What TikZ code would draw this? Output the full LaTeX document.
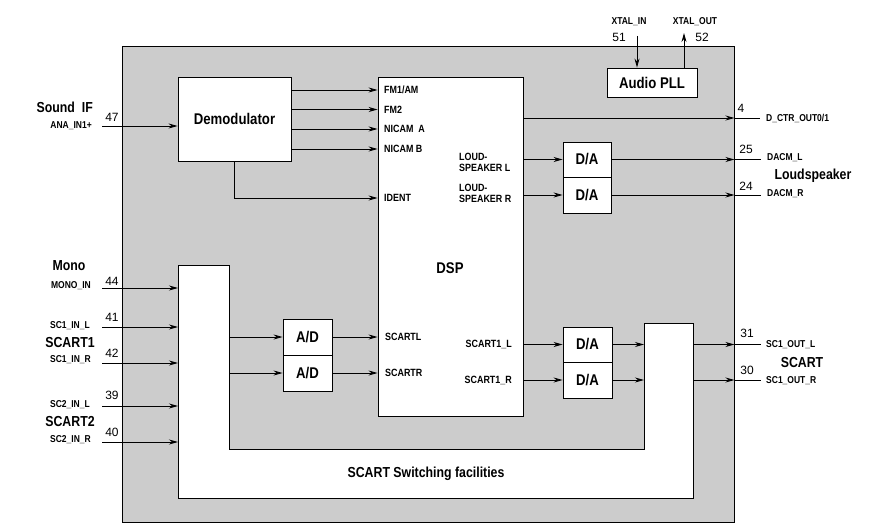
\documentclass[tikz,border=0pt]{standalone}
\usepackage{fontspec}
\setmainfont{Liberation Sans}[FakeStretch=0.85]
\newfontfamily\pinnum{Liberation Sans}
\usetikzlibrary{arrows.meta,positioning,calc}
\definecolor{chipgray}{RGB}{204,204,204}

\tikzset{
  wire/.style={line width=0.9pt},
  arr/.style={wire, -{Stealth[length=9pt,width=5pt]}},
  blk/.style={draw, wire, fill=white, inner sep=0pt, font=\bfseries\fontsize{15.5}{15.5}\selectfont},
  sig/.style={inner sep=0pt, font=\bfseries\fontsize{10.5}{11.5}\selectfont},
  pinlbl/.style={inner sep=0pt, font=\bfseries\fontsize{10}{10}\selectfont},
  pinno/.style={inner sep=0pt, font=\pinnum\fontsize{12}{12}\selectfont},
  grp/.style={inner sep=0pt, font=\bfseries\fontsize{14.5}{14.5}\selectfont},
}

\begin{document}
\begin{tikzpicture}[x=1pt,y=-1pt]
    \useasboundingbox (0,0) rectangle (878,524);
    % Chip
    \node[draw, wire, fill=chipgray, minimum width=612, minimum height=476, inner sep=0pt] (chip) at (428,284) {};
    % SCART switch
    \coordinate (swNW) at (178,265);
    \coordinate (swNE) at (229,265);
    \coordinate (swRC) at (644,323);
    \coordinate (swRE) at (693,323);
    \draw[wire, fill=white] (swNW) -- (swNE) -- (229,449) -- (644,449) -- (swRC) -- (swRE)
        -- (693,498) -- (178,498) -- cycle;
    \node[grp] (swlbl) at (426,474) {SCART Switching facilities};
    % Blocks
    \node[blk, minimum width=113, minimum height=84] (demod) at (234.5,119) {Demodulator};
    \node[blk, minimum width=145, minimum height=339] (dsp) at (450.5,246.5) {};
    \node[blk, draw=none, fill=none] (dsplbl) at (450,268) {DSP};
    \node[blk, minimum width=90, minimum height=29] (pll) at (652,82.5) {Audio PLL};
    \node[blk, minimum width=48, minimum height=35] (da1) at (587,159.5) {D/A};
    \node[blk, minimum width=48, minimum height=36] (da2) at (587,195) {D/A};
    \node[blk, minimum width=49, minimum height=36] (ad1) at (307.5,337) {A/D};
    \node[blk, minimum width=49, minimum height=36] (ad2) at (307.5,373) {A/D};
    \node[blk, minimum width=49, minimum height=35] (da3) at (587.5,344.5) {D/A};
    \node[blk, minimum width=49, minimum height=36] (da4) at (587.5,380) {D/A};
    % DSP ports
    \node[sig, anchor=west] (fm1) at (384,90) {FM1/AM};
    \node[sig, anchor=west] (fm2) at (384,109.5) {FM2};
    \node[sig, anchor=west] (nica) at (384,129) {NICAM\ \ A};
    \node[sig, anchor=west] (nicb) at (384,149) {NICAM B};
    \node[sig, anchor=west] (ident) at (384,198) {IDENT};
    \node[sig, anchor=west, align=left] (lspl) at (459,162.5) {LOUD-\\SPEAKER L};
    \node[sig, anchor=west, align=left] (lspr) at (459,193.5) {LOUD-\\SPEAKER R};
    \node[sig, anchor=west] (scl) at (385,337) {SCARTL};
    \node[sig, anchor=west] (scr) at (385,373) {SCARTR};
    \node[sig, anchor=east] (sc1l) at (512,344.5) {SCART1\_L};
    \node[sig, anchor=east] (sc1r) at (512,380.5) {SCART1\_R};
    % Demodulator to DSP
    \foreach \p in {fm1,fm2,nica,nicb}
        \draw[arr] (\p.west -| demod.east) -- (\p.west -| dsp.west);
    \draw[arr] (demod.south) |- (ident.west -| dsp.west);
    % Loudspeaker path
    \coordinate (dacml) at (761,159.5);
    \coordinate (dacmr) at (761,195);
    \draw[arr] (da1.west -| dsp.east) -- (da1.west);
    \draw[arr] (da2.west -| dsp.east) -- (da2.west);
    \draw[arr] (da1.east) -- (da1.east -| chip.east);
    \draw[wire] (da1.east -| chip.east) -- (dacml);
    \draw[arr] (da2.east) -- (da2.east -| chip.east);
    \draw[wire] (da2.east -| chip.east) -- (dacmr);
    % D_CTR_OUT
    \coordinate (dctr) at (760,118);
    \draw[arr] (dctr -| dsp.east) -- (dctr -| chip.east);
    \draw[wire] (dctr -| chip.east) -- (dctr);
    % Audio PLL
    \coordinate (xin) at (637,36);
    \coordinate (xout) at (684,33);
    \draw[arr] (xin) -- (xin |- pll.north);
    \draw[arr] (xout |- pll.north) -- (xout);
    % Sound IF input
    \coordinate (in47) at (102,126);
    \draw[arr] (in47) -- (in47 -| demod.west);
    % Analog inputs
    \coordinate (in44) at (102,288);
    \coordinate (in41) at (102,327);
    \coordinate (in42) at (102,363);
    \coordinate (in39) at (102,406);
    \coordinate (in40) at (102,442);
    \foreach \p in {in44,in41,in42,in39,in40}
        \draw[arr] (\p) -- (\p -| swNW);
    % A/D path
    \draw[arr] (ad1.west -| swNE) -- (ad1.west);
    \draw[arr] (ad2.west -| swNE) -- (ad2.west);
    \draw[arr] (ad1.east) -- (ad1.east -| dsp.west);
    \draw[arr] (ad2.east) -- (ad2.east -| dsp.west);
    % SCART out path
    \coordinate (out31) at (761,344.5);
    \coordinate (out30) at (761,380);
    \draw[arr] (da3.west -| dsp.east) -- (da3.west);
    \draw[arr] (da4.west -| dsp.east) -- (da4.west);
    \draw[arr] (da3.east) -- (da3.east -| swRC);
    \draw[arr] (da4.east) -- (da4.east -| swRC);
    \draw[arr] (da3.east -| swRE) -- (da3.east -| chip.east);
    \draw[wire] (da3.east -| chip.east) -- (out31);
    \draw[arr] (da4.east -| swRE) -- (da4.east -| chip.east);
    \draw[wire] (da4.east -| chip.east) -- (out30);
    % Pin labels left
    \node[grp, anchor=east] (soundif) at (93,107) {Sound\ \ IF};
    \node[pinlbl, anchor=east] (ana) at (92,126) {ANA\_IN1+};
    \node[pinno] (n47) at (112,117) {47};
    \node[grp] (mono) at (69,266) {Mono};
    \node[pinlbl, anchor=east] (monoin) at (91,286) {MONO\_IN};
    \node[pinno] (n44) at (112,281) {44};
    \node[pinlbl, anchor=east] (sc1inl) at (90,326) {SC1\_IN\_L};
    \node[pinno] (n41) at (112,317) {41};
    \node[grp] (scart1) at (70,343) {SCART1};
    \node[pinlbl, anchor=east] (sc1inr) at (91,360) {SC1\_IN\_R};
    \node[pinno] (n42) at (112,353) {42};
    \node[pinlbl, anchor=east] (sc2inl) at (90,405) {SC2\_IN\_L};
    \node[pinno] (n39) at (112,395) {39};
    \node[grp] (scart2) at (70,422) {SCART2};
    \node[pinlbl, anchor=east] (sc2inr) at (91,440) {SC2\_IN\_R};
    \node[pinno] (n40) at (112,432) {40};
    % Pin labels top
    \node[pinlbl] (xinlbl) at (629,22) {XTAL\_IN};
    \node[pinno] (n51) at (619,37) {51};
    \node[pinlbl] (xoutlbl) at (695,22) {XTAL\_OUT};
    \node[pinno] (n52) at (702,37) {52};
    % Pin labels right
    \node[pinno] (n4) at (741,108) {4};
    \node[pinlbl, anchor=west] (dctrlbl) at (766,118) {D\_CTR\_OUT0/1};
    \node[pinno] (n25) at (746,149) {25};
    \node[pinlbl, anchor=west] (dacmllbl) at (767,158) {DACM\_L};
    \node[grp] (lsp) at (813,176) {Loudspeaker};
    \node[pinno] (n24) at (746,186) {24};
    \node[pinlbl, anchor=west] (dacmrlbl) at (767,194) {DACM\_R};
    \node[pinno] (n31) at (747,333) {31};
    \node[pinlbl, anchor=west] (sc1outl) at (766,344.5) {SC1\_OUT\_L};
    \node[grp] (scartout) at (802,363) {SCART};
    \node[pinno] (n30) at (747,370) {30};
    \node[pinlbl, anchor=west] (sc1outr) at (766,381) {SC1\_OUT\_R};
\end{tikzpicture}
\end{document}
